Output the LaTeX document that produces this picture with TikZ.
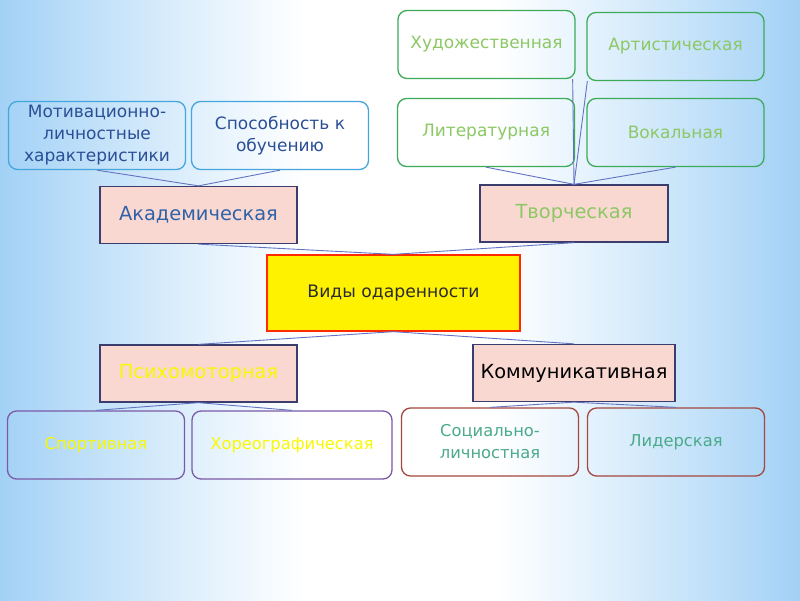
\documentclass[tikz,border=0pt]{standalone}
\usepackage{fontspec}
\setmainfont{DejaVu Sans}
\definecolor{bgb}{HTML}{A2D1F6}
\definecolor{bgm}{HTML}{C2E1F9}
\definecolor{bgl}{HTML}{E4F2FD}
\definecolor{blueline}{HTML}{45A6DE}
\definecolor{bluetext}{HTML}{2B4F96}
\definecolor{greenline}{HTML}{3DAA5A}
\definecolor{greentext}{HTML}{8CC864}
\definecolor{pinkfill}{HTML}{F9D8D2}
\definecolor{navy}{HTML}{3B3D6E}
\definecolor{acadtext}{HTML}{2F62A8}
\definecolor{redline}{HTML}{FF2A00}
\definecolor{darktext}{HTML}{2B2B2B}
\definecolor{purpleline}{HTML}{7B5AA6}
\definecolor{yel}{HTML}{F8F800}
\definecolor{brownline}{HTML}{A3473F}
\definecolor{tealtext}{HTML}{4AAA8A}
\definecolor{conn}{HTML}{6273C2}
\pgfdeclarehorizontalshading{bgshade}{100bp}{color(0bp)=(bgb); color(25bp)=(bgb); color(31bp)=(bgm); color(38bp)=(bgl); color(44bp)=(white); color(56bp)=(white); color(62bp)=(bgl); color(69bp)=(bgm); color(75bp)=(bgb); color(100bp)=(bgb)}
\tikzset{
  rbox/.style={draw, rounded corners=9pt, line width=1.3pt, inner sep=0pt, align=center,
    minimum width=177pt, minimum height=68pt, font=\fontsize{17}{22}\selectfont},
  bluebox/.style={rbox, draw=blueline, text=bluetext},
  greenbox/.style={rbox, draw=greenline, text=greentext},
  purplebox/.style={rbox, draw=purpleline, text=yel, font=\fontsize{16.3}{21}\selectfont},
  brownbox/.style={rbox, draw=brownline, text=tealtext, font=\fontsize{16.3}{22}\selectfont},
  midbox/.style={draw=navy, fill=pinkfill, line width=1.3pt, inner sep=0pt, align=center,
    minimum height=57pt, font=\fontsize{19.4}{23}\selectfont},
  conline/.style={draw=conn, line width=0.9pt}
}
\begin{document}
\begin{tikzpicture}[x=1pt,y=-1pt]
\useasboundingbox (0,0) rectangle (800,600);
\shade[shading=bgshade] (0,0) rectangle (800,600);
% top-left
\node[bluebox] (mot) at (97,135.5) {Мотивационно-\\личностные\\характеристики};
\node[bluebox] (spo) at (280,135.5) {Способность к\\обучению};
% top-right
\node[greenbox] (hud) at (486.5,44.5) {Художественная};
\node[greenbox] (art) at (675.5,46.5) {Артистическая};
\node[greenbox] (lit) at (486,132.5) {Литературная};
\node[greenbox] (vok) at (675.5,132.5) {Вокальная};
% level 2
\node[midbox, minimum width=197pt, text=acadtext] (aca) at (198.5,215) {Академическая};
\node[midbox, minimum width=188pt, text=greentext] (tvo) at (574,213.5) {Творческая};
\node[midbox, minimum width=197pt, text=yel] (psi) at (198.5,373.5) {Психомоторная};
\node[midbox, minimum width=202pt, text=black] (kom) at (574,373) {Коммуникативная};
% centre
\node[draw=redline, fill=yellow, line width=1.3pt, minimum width=253pt, minimum height=76pt,
  inner sep=0pt, text=darktext, font=\fontsize{17.2}{21}\selectfont] (vid) at (393.5,293) {Виды одаренности};
% bottom
\node[purplebox] (spt) at (96,445) {Спортивная};
\node[purplebox, minimum width=200pt] (hor) at (292,445) {Хореографическая};
\node[brownbox] (soc) at (490,442) {Социально-\\личностная};
\node[brownbox] (lid) at (676,442) {Лидерская};
% connectors
\draw[conline] (mot.south) -- (aca.north);
\draw[conline] (spo.south) -- (aca.north);
\draw[conline] (lit.south) -- (tvo.north);
\draw[conline] (vok.south) -- (tvo.north);
\draw[conline] ([xshift=-3pt]hud.south east) -- (tvo.north);
\draw[conline] ([xshift=1pt]art.south west) -- (tvo.north);
\draw[conline] (aca.south) -- (vid.north);
\draw[conline] (tvo.south) -- (vid.north);
\draw[conline] (vid.south) -- (psi.north);
\draw[conline] (vid.south) -- (kom.north);
\draw[conline] (psi.south) -- (spt.north);
\draw[conline] (psi.south) -- (hor.north);
\draw[conline] (kom.south) -- (soc.north);
\draw[conline] (kom.south) -- (lid.north);
\end{tikzpicture}
\end{document}
